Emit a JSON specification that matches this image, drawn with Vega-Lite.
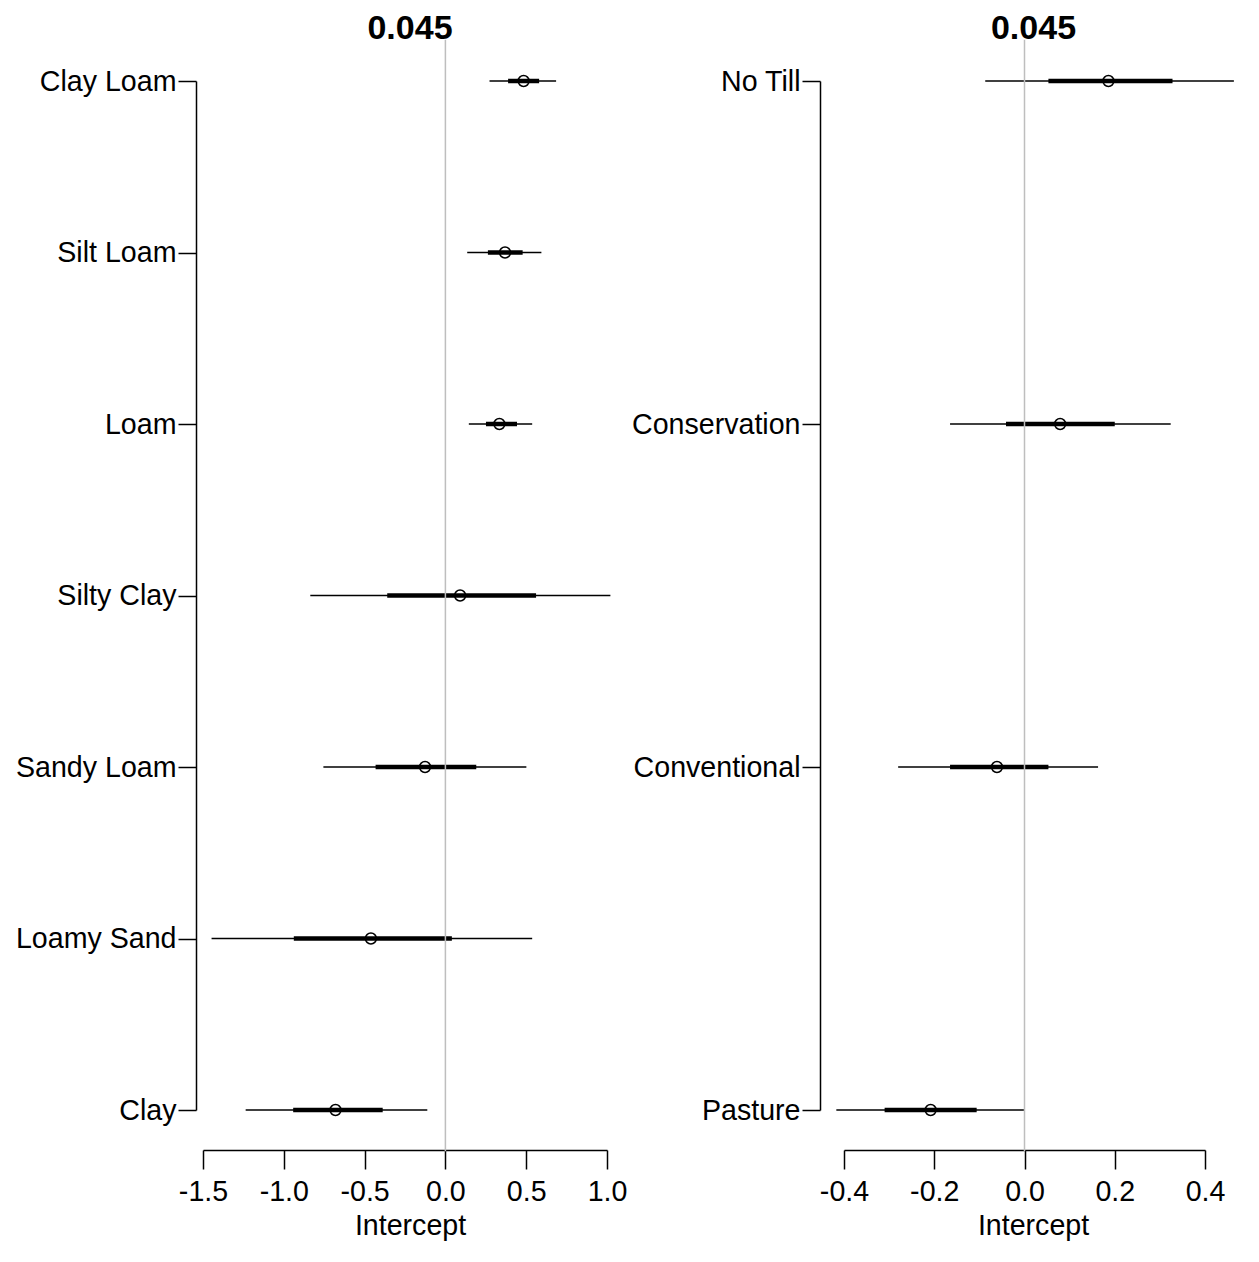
{
  "$schema": "https://vega.github.io/schema/vega-lite/v6.json",
  "background": "white",
  "padding": {"left": 15, "top": 12, "right": 5, "bottom": 5},
  "spacing": 4,
  "config": {
    "view": {"stroke": null},
    "font": "Liberation Sans",
    "title": {"font": "Liberation Sans", "fontSize": 34, "fontWeight": "bold", "color": "#000000", "anchor": "middle", "offset": -7},
    "axis": {
      "grid": false,
      "domainColor": "#000000",
      "domainWidth": 1.5,
      "tickColor": "#000000",
      "tickWidth": 1.5,
      "labelColor": "#000000",
      "labelFont": "Liberation Sans",
      "labelFontSize": 28.6,
      "titleFont": "Liberation Sans",
      "titleFontSize": 28.6,
      "titleFontWeight": "normal",
      "titleColor": "#000000",
      "labelFlush": false,
      "labelOverlap": false,
      "labelBound": false
    }
  },
  "datasets": {
    "soil": [
      {"cat": "Clay Loam", "est": 0.484, "lo95": 0.273, "hi95": 0.685, "lo50": 0.388, "hi50": 0.580},
      {"cat": "Silt Loam", "est": 0.369, "lo95": 0.135, "hi95": 0.594, "lo50": 0.263, "hi50": 0.478},
      {"cat": "Loam", "est": 0.334, "lo95": 0.145, "hi95": 0.537, "lo50": 0.251, "hi50": 0.443},
      {"cat": "Silty Clay", "est": 0.091, "lo95": -0.836, "hi95": 1.021, "lo50": -0.360, "hi50": 0.561},
      {"cat": "Sandy Loam", "est": -0.126, "lo95": -0.755, "hi95": 0.501, "lo50": -0.432, "hi50": 0.191},
      {"cat": "Loamy Sand", "est": -0.461, "lo95": -1.447, "hi95": 0.537, "lo50": -0.938, "hi50": 0.040},
      {"cat": "Clay", "est": -0.680, "lo95": -1.236, "hi95": -0.112, "lo50": -0.942, "hi50": -0.388}
    ],
    "till": [
      {"cat": "No Till", "est": 0.186, "lo95": -0.087, "hi95": 0.464, "lo50": 0.053, "hi50": 0.328},
      {"cat": "Conservation", "est": 0.079, "lo95": -0.165, "hi95": 0.324, "lo50": -0.041, "hi50": 0.200},
      {"cat": "Conventional", "est": -0.061, "lo95": -0.280, "hi95": 0.163, "lo50": -0.165, "hi50": 0.053},
      {"cat": "Pasture", "est": -0.208, "lo95": -0.417, "hi95": 0.000, "lo50": -0.310, "hi50": -0.106}
    ],
    "ref": [{"ref": 0}]
  },
  "hconcat": [
    {
      "width": 404,
      "height": 1029,
      "title": {"text": "0.045", "dx": 5},
      "layer": [
        {
          "data": {"name": "soil"},
          "encoding": {
            "y": {"field": "cat", "type": "nominal", "sort": ["Clay Loam", "Silt Loam", "Loam", "Silty Clay", "Sandy Loam", "Loamy Sand", "Clay"], "scale": {"type": "point", "padding": 0}, "axis": {"title": null, "offset": 7, "tickSize": 18, "labelPadding": 2}}
          },
          "layer": [
            {
              "mark": {"type": "rule", "color": "#000000", "strokeWidth": 1.5},
              "encoding": {
                "x": {"field": "lo95", "type": "quantitative", "scale": {"domain": [-1.5, 1.0], "nice": false, "zero": false}, "axis": {"title": "Intercept", "values": [-1.5, -1.0, -0.5, 0, 0.5, 1.0], "labelExpr": "datum.value < 0 ? '-' + format(-datum.value, '.1f') : format(datum.value, '.1f')", "offset": 40, "tickSize": 19, "labelPadding": 8, "titlePadding": 6, "titleX": 207}},
                "x2": {"field": "hi95"}
              }
            },
            {
              "mark": {"type": "rule", "color": "#000000", "strokeWidth": 4.5},
              "encoding": {
                "x": {"field": "lo50", "type": "quantitative"},
                "x2": {"field": "hi50"}
              }
            },
            {
              "mark": {"type": "point", "shape": "circle", "filled": false, "color": "#000000", "size": 120, "strokeWidth": 1.5, "opacity": 1},
              "encoding": {
                "x": {"field": "est", "type": "quantitative"}
              }
            }
          ]
        },
        {
          "data": {"name": "ref"},
          "mark": {"type": "rule", "color": "#BEBEBE", "strokeWidth": 1.5},
          "encoding": {
            "x": {"field": "ref", "type": "quantitative"},
            "y": {"datum": -0.04, "type": "quantitative", "scale": {"domain": [0, 1], "nice": false, "zero": false}, "axis": null},
            "y2": {"datum": 1.04}
          }
        }
      ],
      "resolve": {"scale": {"y": "independent"}, "axis": {"y": "independent"}}
    },
    {
      "width": 361,
      "height": 1029,
      "title": {"text": "0.045", "dx": 9},
      "layer": [
        {
          "data": {"name": "till"},
          "encoding": {
            "y": {"field": "cat", "type": "nominal", "sort": ["No Till", "Conservation", "Conventional", "Pasture"], "scale": {"type": "point", "padding": 0}, "axis": {"title": null, "offset": 24, "tickSize": 18, "labelPadding": 2}}
          },
          "layer": [
            {
              "mark": {"type": "rule", "color": "#000000", "strokeWidth": 1.5},
              "encoding": {
                "x": {"field": "lo95", "type": "quantitative", "scale": {"domain": [-0.4, 0.4], "nice": false, "zero": false}, "axis": {"title": "Intercept", "values": [-0.4, -0.2, 0, 0.2, 0.4], "labelExpr": "datum.value < 0 ? '-' + format(-datum.value, '.1f') : format(datum.value, '.1f')", "offset": 40, "tickSize": 19, "labelPadding": 8, "titlePadding": 6, "titleX": 189}},
                "x2": {"field": "hi95"}
              }
            },
            {
              "mark": {"type": "rule", "color": "#000000", "strokeWidth": 4.5},
              "encoding": {
                "x": {"field": "lo50", "type": "quantitative"},
                "x2": {"field": "hi50"}
              }
            },
            {
              "mark": {"type": "point", "shape": "circle", "filled": false, "color": "#000000", "size": 120, "strokeWidth": 1.5, "opacity": 1},
              "encoding": {
                "x": {"field": "est", "type": "quantitative"}
              }
            }
          ]
        },
        {
          "data": {"name": "ref"},
          "mark": {"type": "rule", "color": "#BEBEBE", "strokeWidth": 1.5},
          "encoding": {
            "x": {"field": "ref", "type": "quantitative"},
            "y": {"datum": -0.04, "type": "quantitative", "scale": {"domain": [0, 1], "nice": false, "zero": false}, "axis": null},
            "y2": {"datum": 1.04}
          }
        }
      ],
      "resolve": {"scale": {"y": "independent"}, "axis": {"y": "independent"}}
    }
  ]
}
